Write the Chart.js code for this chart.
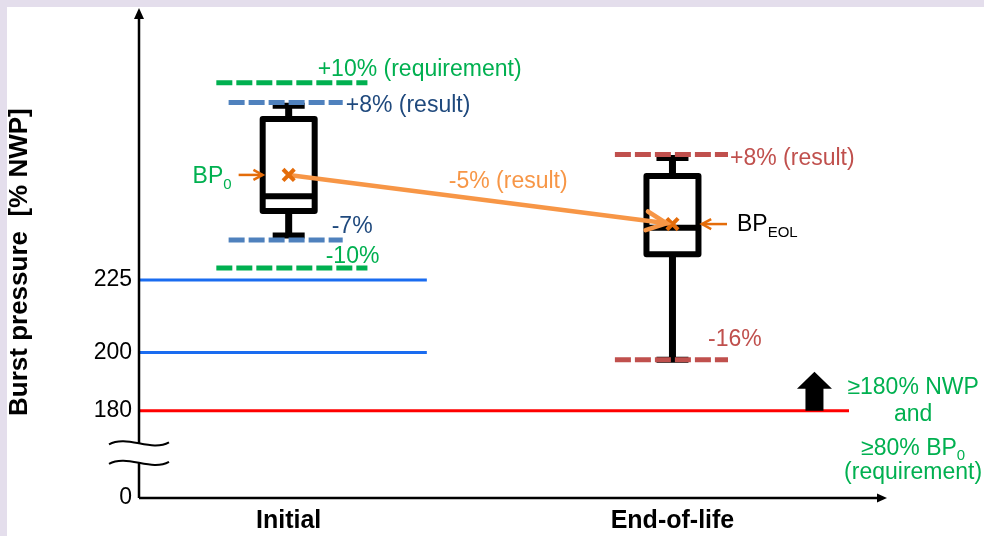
<!DOCTYPE html>
<html>
<head>
<meta charset="utf-8">
<title>Burst pressure: initial vs end-of-life</title>
<script src="https://cdn.jsdelivr.net/npm/chart.js@4.4.1/dist/chart.umd.min.js"></script>
<style>
  html, body { margin: 0; padding: 0; background: #e4deec; }
  #wrap { position: absolute; left: 7px; top: 7px; width: 977px; height: 529px; background: #fff; }
</style>
</head>
<body>
<div id="wrap"><canvas id="burst-chart"></canvas></div>
<script>
const categories = ["Initial", "End-of-life"];

// box plot summary per category (% NWP)
const whiskerLow = [240.3, 197.5];
const boxLow = [248.7, 233.8];
const medians = [253.8, 242.9];
const boxHigh = [280.3, 260.7];
const whiskerHigh = [284.9, 266.9];
const means = [261.1, 244.2];

// dashed bands: [upper, lower]
const initialRequirement = [292.8, 229.1]; // +10% / -10%
const initialResult = [286.0, 238.7]; // +8% / -7%
const eolResult = [268.1, 197.5]; // +8% / -16%

// solid reference levels
const blueLevels = [225, 200];
const redLevel = 180;

const yTickValues = [0, 180, 200, 225];
const yTickLabels = ["0", "180", "200", "225"];

// axis layout (the y axis is broken below 180, "0" sits at Y_MIN)
const Y_MIN = 150;
const Y_MAX = 318.5;
const X_MIN = 0.61;
const X_MAX = 2.559;
const BREAK_TOP = 168.8;
const BREAK_BOTTOM = 162.1;

const FONT = '"Liberation Sans", Arial, sans-serif';
const GREEN = "#00b050";
const DARK_BLUE = "#1f497d";
const BLUE_DASH = "#4f81bd";
const RED_DASH = "#c0504d";
const ORANGE = "#f79646";
const ORANGE_DARK = "#e46c0a";
const BLUE_LINE = "#1a6cf0";
const RED_LINE = "#ff0000";

Chart.defaults.font.family = FONT;

function hline(y, x0, x1, color, width, dash) {
  return {
    data: [{ x: x0, y: y }, { x: x1, y: y }],
    showLine: true,
    borderColor: color,
    borderWidth: width,
    borderDash: dash || [],
    pointRadius: 0,
    order: 3,
  };
}

const DASH = [16, 4];
const datasets = [
  hline(blueLevels[0], X_MIN, 1.36, BLUE_LINE, 3),
  hline(blueLevels[1], X_MIN, 1.36, BLUE_LINE, 3),
  hline(redLevel, X_MIN, 2.46, RED_LINE, 3),
  hline(initialRequirement[0], 1 - 0.1885, 1 + 0.2052, GREEN, 5, DASH),
  hline(initialRequirement[1], 1 - 0.1885, 1 + 0.2052, GREEN, 5, DASH),
  hline(initialResult[0], 1 - 0.1565, 1 + 0.1408, BLUE_DASH, 5, DASH),
  hline(initialResult[1], 1 - 0.1565, 1 + 0.1408, BLUE_DASH, 5, DASH),
  hline(eolResult[0], 2 - 0.15, 2 + 0.1447, RED_DASH, 5, DASH),
  hline(eolResult[1], 2 - 0.15, 2 + 0.1447, RED_DASH, 5, DASH),
  {
    // -5% trend between the two means
    data: means.map((m, i) => ({ x: i + 1, y: m })),
    showLine: true,
    borderColor: ORANGE,
    borderWidth: 4.5,
    pointRadius: 0,
    order: 1,
  },
  {
    data: means.map((m, i) => ({ x: i + 1, y: m })),
    pointStyle: "crossRot",
    pointRadius: 8,
    borderWidth: 4,
    borderColor: ORANGE_DARK,
    backgroundColor: ORANGE_DARK,
    order: 0,
  },
];

// text notes, positioned in axis units
const notes = [
  { text: "+10% (requirement)", x: 1.0756, y: 297.8, color: GREEN },
  { text: "+8% (result)", x: 1.1486, y: 285.3, color: DARK_BLUE },
  { text: "-7%", x: 1.1121, y: 243.9, color: DARK_BLUE },
  { text: "-10%", x: 1.0965, y: 233.4, color: GREEN },
  { text: "BP", sub: "0", x: 0.7497, y: 260.9, color: GREEN },
  { text: "-5% (result)", x: 1.4172, y: 259.2, color: ORANGE },
  { text: "+8% (result)", x: 2.1499, y: 267.1, color: RED_DASH },
  { text: "BP", sub: "EOL", x: 2.1682, y: 244.4, color: "#000" },
  { text: "-16%", x: 2.0926, y: 204.9, color: RED_DASH },
  { text: "\u2265180% NWP", x: 2.6271, y: 188.6, color: GREEN, center: true },
  { text: "and", x: 2.6271, y: 179.3, color: GREEN, center: true },
  { text: "\u226580% BP", sub: "0", x: 2.6271, y: 167.6, color: GREEN, center: true },
  { text: "(requirement)", x: 2.6271, y: 159.2, color: GREEN, center: true },
];

function chevron(ctx, tx, ty, angle, len, spread) {
  ctx.beginPath();
  ctx.moveTo(tx - len * Math.cos(angle - spread), ty - len * Math.sin(angle - spread));
  ctx.lineTo(tx, ty);
  ctx.lineTo(tx - len * Math.cos(angle + spread), ty - len * Math.sin(angle + spread));
  ctx.stroke();
}

const boxPlugin = {
  id: "boxes",
  beforeDatasetsDraw(chart) {
    const { ctx, scales: { x, y } } = chart;
    ctx.save();
    ctx.strokeStyle = "#000";
    ctx.lineJoin = "round";
    categories.forEach((c, i) => {
      const cx = x.getPixelForValue(i + 1);
      const half = 26;
      const top = y.getPixelForValue(boxHigh[i]);
      const bot = y.getPixelForValue(boxLow[i]);
      const med = y.getPixelForValue(medians[i]);
      const wHi = y.getPixelForValue(whiskerHigh[i]);
      const wLo = y.getPixelForValue(whiskerLow[i]);

      // whiskers
      ctx.lineWidth = 7;
      ctx.beginPath();
      ctx.moveTo(cx, top);
      ctx.lineTo(cx, wHi);
      ctx.moveTo(cx, bot);
      ctx.lineTo(cx, wLo);
      ctx.stroke();
      ctx.lineWidth = 6;
      ctx.beginPath();
      ctx.moveTo(cx - 16, wHi);
      ctx.lineTo(cx + 16, wHi);
      ctx.moveTo(cx - 16, wLo);
      ctx.lineTo(cx + 16, wLo);
      ctx.stroke();
      // box
      ctx.fillStyle = "#fff";
      ctx.beginPath();
      ctx.rect(cx - half, top, half * 2, bot - top);
      ctx.fill();
      ctx.stroke();
      // median
      ctx.beginPath();
      ctx.moveTo(cx - half, med);
      ctx.lineTo(cx + half, med);
      ctx.stroke();
    });
    ctx.restore();
  },
};

const overlayPlugin = {
  id: "overlay",
  afterDatasetsDraw(chart) {
    const { ctx, chartArea: a, scales: { x, y } } = chart;
    ctx.save();

    // axes with arrow heads and the break on y
    const yb1 = y.getPixelForValue(BREAK_TOP);
    const yb2 = y.getPixelForValue(BREAK_BOTTOM);
    ctx.strokeStyle = "#000";
    ctx.fillStyle = "#000";
    ctx.lineWidth = 2.5;
    ctx.beginPath();
    ctx.moveTo(a.left, a.bottom);
    ctx.lineTo(a.left, yb2);
    ctx.moveTo(a.left, yb1);
    ctx.lineTo(a.left, a.top + 9);
    ctx.moveTo(a.left, a.bottom);
    ctx.lineTo(a.right - 9, a.bottom);
    ctx.stroke();
    ctx.beginPath();
    ctx.moveTo(a.left, a.top);
    ctx.lineTo(a.left - 5, a.top + 11);
    ctx.lineTo(a.left + 5, a.top + 11);
    ctx.closePath();
    ctx.fill();
    ctx.beginPath();
    ctx.moveTo(a.right, a.bottom);
    ctx.lineTo(a.right - 10, a.bottom - 4.5);
    ctx.lineTo(a.right - 10, a.bottom + 4.5);
    ctx.closePath();
    ctx.fill();

    ctx.lineWidth = 2;
    [yb1, yb2].forEach((yy) => {
      ctx.beginPath();
      ctx.moveTo(a.left - 30, yy + 1);
      ctx.bezierCurveTo(a.left - 12, yy - 9, a.left + 12, yy + 9, a.left + 30, yy - 1);
      ctx.stroke();
    });

    // up arrow on the 180 requirement line
    const ax = x.getPixelForValue(2.37);
    const aBase = y.getPixelForValue(redLevel);
    const aNeck = y.getPixelForValue(187.6);
    const aTip = y.getPixelForValue(193.4);
    ctx.beginPath();
    ctx.moveTo(ax - 9, aBase);
    ctx.lineTo(ax - 9, aNeck);
    ctx.lineTo(ax - 17.5, aNeck);
    ctx.lineTo(ax, aTip);
    ctx.lineTo(ax + 17.5, aNeck);
    ctx.lineTo(ax + 9, aNeck);
    ctx.lineTo(ax + 9, aBase);
    ctx.closePath();
    ctx.fill();

    // head of the -5% trend arrow
    const p0 = { x: x.getPixelForValue(1), y: y.getPixelForValue(means[0]) };
    const p1 = { x: x.getPixelForValue(2), y: y.getPixelForValue(means[1]) };
    const ang = Math.atan2(p1.y - p0.y, p1.x - p0.x);
    ctx.strokeStyle = ORANGE;
    ctx.lineWidth = 4.5;
    ctx.lineCap = "round";
    chevron(ctx, p1.x - 6 * Math.cos(ang), p1.y - 6 * Math.sin(ang), ang, 22, 0.44);

    // small pointers to BP0 and BPEOL
    ctx.strokeStyle = ORANGE_DARK;
    ctx.lineWidth = 2.5;
    ctx.lineCap = "butt";
    const pointers = [
      { from: 0.8696, to: 0.9322, y: means[0] },
      { from: 2.1421, to: 2.0769, y: means[1] },
    ];
    pointers.forEach((p) => {
      const x0 = x.getPixelForValue(p.from);
      const x1 = x.getPixelForValue(p.to);
      const py = y.getPixelForValue(p.y);
      ctx.beginPath();
      ctx.moveTo(x0, py);
      ctx.lineTo(x1, py);
      ctx.stroke();
      chevron(ctx, x1, py, x1 > x0 ? 0 : Math.PI, 10.5, 0.5);
    });

    // notes
    ctx.textBaseline = "middle";
    ctx.textAlign = "left";
    notes.forEach((n) => {
      const main = "23px " + FONT;
      const small = "15px " + FONT;
      ctx.font = main;
      const w = ctx.measureText(n.text).width;
      let sw = 0;
      if (n.sub) {
        ctx.font = small;
        sw = ctx.measureText(n.sub).width;
      }
      let px = x.getPixelForValue(n.x);
      const py = y.getPixelForValue(n.y) + 1.5;
      if (n.center) px -= (w + sw) / 2;
      ctx.fillStyle = n.color;
      ctx.font = main;
      ctx.fillText(n.text, px, py);
      if (n.sub) {
        ctx.font = small;
        ctx.fillText(n.sub, px + w, py + 8);
      }
    });

    ctx.restore();
  },
};

const ctx = document.getElementById("burst-chart").getContext("2d");

new Chart(ctx, {
  type: "scatter",
  data: { datasets: datasets },
  options: {
    responsive: true,
    maintainAspectRatio: false,
    animation: false,
    layout: {
      autoPadding: false,
      padding: { left: 0, right: 97, top: 1, bottom: 0 },
    },
    plugins: {
      legend: { display: false },
      tooltip: { enabled: false },
    },
    scales: {
      x: {
        type: "linear",
        min: X_MIN,
        max: X_MAX,
        grid: { display: false, drawTicks: false },
        border: { display: false },
        afterBuildTicks: (s) => {
          s.ticks = categories.map((c, i) => ({ value: i + 1 }));
        },
        afterFit: (s) => {
          s.height = 38;
          s.paddingLeft = 0;
          s.paddingRight = 0;
        },
        ticks: {
          color: "#000",
          padding: 8,
          autoSkip: false,
          maxRotation: 0,
          font: { size: 25, weight: "bold" },
          callback: (v, i) => categories[i],
        },
      },
      y: {
        type: "linear",
        min: Y_MIN,
        max: Y_MAX,
        grid: { display: false, drawTicks: false },
        border: { display: false },
        afterBuildTicks: (s) => {
          s.ticks = yTickValues.map((v) => ({ value: v === 0 ? Y_MIN : v }));
        },
        afterFit: (s) => {
          s.width = 132;
          s.paddingTop = 0;
          s.paddingBottom = 0;
        },
        ticks: {
          color: "#000",
          padding: 7,
          autoSkip: false,
          font: { size: 23 },
          callback: (v, i) => yTickLabels[i],
        },
        title: {
          display: true,
          text: "Burst pressure  [% NWP]\u2002\u2009",
          color: "#000",
          padding: 0,
          font: { size: 26, weight: "bold", lineHeight: 1 },
        },
      },
    },
  },
  plugins: [boxPlugin, overlayPlugin],
});
</script>
</body>
</html>
